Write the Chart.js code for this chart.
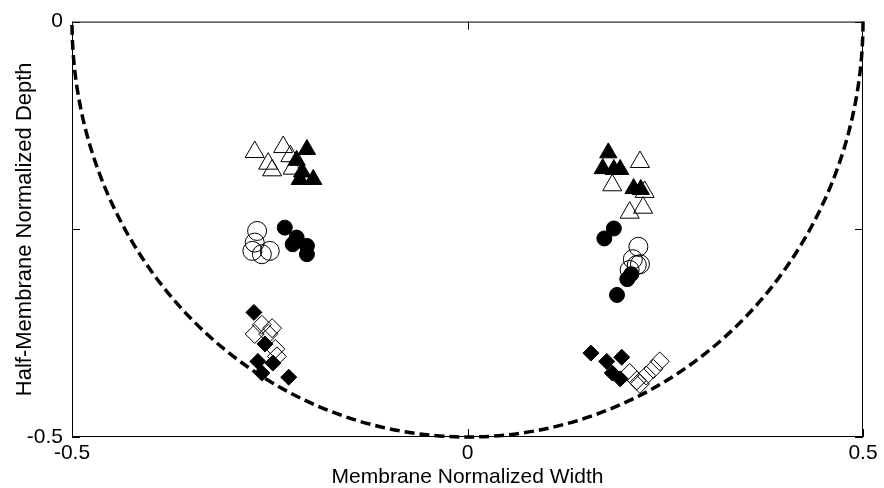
<!DOCTYPE html>
<html>
<head>
<meta charset="utf-8">
<script src="https://cdn.jsdelivr.net/npm/chart.js@4/dist/chart.umd.min.js"></script>
<style>
  html, body { margin: 0; padding: 0; background: #fff; }
  #wrap { width: 884px; height: 488px; }
</style>
</head>
<body>
<div id="wrap"><canvas id="depthChart"></canvas></div>
<script>
// Axis ticks
const xTicks = [-0.5, 0, 0.5];
const yTicks = [0, -0.25, -0.5];
const yLabelled = [0, -0.5];

// Membrane boundary (half circle, centre and radius in data units)
const boundaryCentre = [0, 0];
const boundaryRadius = 0.5;

// Left side, triangles
const leftTriOpenX = [-0.269, -0.233, -0.224, -0.252, -0.247, -0.221];
const leftTriOpenY = [-0.157, -0.151, -0.162, -0.171, -0.179, -0.177];
const leftTriFillX = [-0.203, -0.216, -0.209, -0.212, -0.195];
const leftTriFillY = [-0.154, -0.167, -0.181, -0.190, -0.190];

// Left side, circles
const leftCircOpenX = [-0.266, -0.269, -0.272, -0.250, -0.260];
const leftCircOpenY = [-0.252, -0.266, -0.276, -0.276, -0.280];
const leftCircFillX = [-0.231, -0.216, -0.203, -0.203, -0.221];
const leftCircFillY = [-0.248, -0.260, -0.270, -0.280, -0.268];

// Left side, diamonds
const leftDiaOpenX = [-0.260, -0.247, -0.269, -0.252, -0.243, -0.241];
const leftDiaOpenY = [-0.365, -0.369, -0.376, -0.376, -0.394, -0.403];
const leftDiaFillX = [-0.270, -0.256, -0.265, -0.260, -0.246, -0.226];
const leftDiaFillY = [-0.350, -0.388, -0.409, -0.423, -0.411, -0.428];

// Right side, triangles
const rightTriOpenX = [0.218, 0.183, 0.224, 0.222, 0.205];
const rightTriOpenY = [-0.169, -0.197, -0.205, -0.224, -0.230];
const rightTriFillX = [0.178, 0.171, 0.185, 0.193, 0.210, 0.219];
const rightTriFillY = [-0.158, -0.177, -0.178, -0.178, -0.201, -0.202];

// Right side, circles
const rightCircOpenX = [0.216, 0.209, 0.214, 0.218, 0.205];
const rightCircOpenY = [-0.271, -0.286, -0.293, -0.292, -0.299];
const rightCircFillX = [0.185, 0.173, 0.207, 0.202, 0.189];
const rightCircFillY = [-0.249, -0.261, -0.304, -0.310, -0.329];

// Right side, diamonds
const rightDiaOpenX = [0.205, 0.214, 0.226, 0.235, 0.243, 0.218];
const rightDiaOpenY = [-0.423, -0.432, -0.426, -0.418, -0.409, -0.436];
const rightDiaFillX = [0.156, 0.176, 0.195, 0.183, 0.193];
const rightDiaFillY = [-0.399, -0.409, -0.404, -0.423, -0.430];

function pts(xs, ys) {
    return xs.map((x, i) => ({ x: x, y: ys[i] }));
}

function markers(xs, ys, style, filled, radius) {
    return {
        data: pts(xs, ys),
        pointStyle: style,
        pointRadius: radius,
        pointHoverRadius: radius,
        pointBorderWidth: 1,
        borderColor: '#000',
        backgroundColor: filled ? '#000' : 'rgba(0,0,0,0)'
    };
}

// Dashed half circle + box frame + inward tick marks
const framePlugin = {
    id: 'frame',
    beforeDatasetsDraw(chart) {
        const { ctx, scales: { x, y } } = chart;
        const cx = x.getPixelForValue(boundaryCentre[0]);
        const cy = y.getPixelForValue(boundaryCentre[1]);
        const rx = x.getPixelForValue(boundaryCentre[0] + boundaryRadius) - cx;
        const ry = y.getPixelForValue(boundaryCentre[1] - boundaryRadius) - cy;
        ctx.save();
        ctx.strokeStyle = '#000';
        ctx.lineWidth = 3.5;
        ctx.setLineDash([10, 5]);
        ctx.beginPath();
        ctx.ellipse(cx, cy, rx, ry, 0, 0, Math.PI);
        ctx.stroke();
        ctx.restore();
    },
    afterDraw(chart) {
        const { ctx, chartArea: a, scales: { x, y } } = chart;
        ctx.save();
        ctx.strokeStyle = '#000';
        ctx.lineWidth = 1;
        ctx.setLineDash([]);
        ctx.strokeRect(a.left + 0.5, a.top + 0.5, a.right - a.left - 1, a.bottom - a.top - 1);
        const len = 8;
        ctx.beginPath();
        xTicks.forEach(v => {
            const px = Math.round(x.getPixelForValue(v)) + 0.5;
            ctx.moveTo(px, a.bottom); ctx.lineTo(px, a.bottom - len);
            ctx.moveTo(px, a.top); ctx.lineTo(px, a.top + len);
        });
        yTicks.forEach(v => {
            const py = Math.round(y.getPixelForValue(v)) + 0.5;
            ctx.moveTo(a.left, py); ctx.lineTo(a.left + len, py);
            ctx.moveTo(a.right, py); ctx.lineTo(a.right - len, py);
        });
        ctx.stroke();
        ctx.restore();
    }
};

const tickFont = { family: 'Liberation Sans, Arial, sans-serif', size: 21 };
const titleFont = { family: 'Liberation Sans, Arial, sans-serif', size: 21, lineHeight: 1 };

new Chart(document.getElementById('depthChart'), {
    type: 'scatter',
    data: {
        datasets: [
            markers(leftTriFillX, leftTriFillY, 'triangle', true, 10),
            markers(rightTriFillX, rightTriFillY, 'triangle', true, 10),
            markers(leftCircFillX, leftCircFillY, 'circle', true, 7.5),
            markers(rightCircFillX, rightCircFillY, 'circle', true, 7.5),
            markers(leftDiaFillX, leftDiaFillY, 'rectRot', true, 8),
            markers(rightDiaFillX, rightDiaFillY, 'rectRot', true, 8),
            markers(leftTriOpenX, leftTriOpenY, 'triangle', false, 11),
            markers(rightTriOpenX, rightTriOpenY, 'triangle', false, 11),
            markers(leftCircOpenX, leftCircOpenY, 'circle', false, 9.5),
            markers(rightCircOpenX, rightCircOpenY, 'circle', false, 9.5),
            markers(leftDiaOpenX, leftDiaOpenY, 'rectRot', false, 9.5),
            markers(rightDiaOpenX, rightDiaOpenY, 'rectRot', false, 9.5)
        ]
    },
    options: {
        responsive: true,
        maintainAspectRatio: false,
        animation: false,
        layout: { padding: { top: 16, right: 21, left: 0, bottom: 0 } },
        plugins: {
            legend: { display: false },
            tooltip: { enabled: false }
        },
        scales: {
            x: {
                type: 'linear',
                min: -0.5,
                max: 0.5,
                afterBuildTicks: s => { s.ticks = xTicks.map(v => ({ value: v })); },
                afterFit: s => { s.height = 51; },
                grid: { display: false, drawTicks: false },
                border: { display: false },
                ticks: {
                    color: '#000',
                    font: tickFont,
                    padding: 4,
                    maxRotation: 0,
                    callback: v => String(v)
                },
                title: {
                    display: true,
                    text: 'Membrane Normalized Width',
                    color: '#000',
                    font: titleFont,
                    padding: { top: -2, bottom: 0 }
                }
            },
            y: {
                type: 'linear',
                min: -0.5,
                max: 0,
                afterBuildTicks: s => { s.ticks = yTicks.map(v => ({ value: v })); },
                afterFit: s => { s.width = 72; },
                grid: { display: false, drawTicks: false },
                border: { display: false },
                ticks: {
                    color: '#000',
                    font: tickFont,
                    padding: 9,
                    callback: v => yLabelled.includes(v) ? String(v) : ''
                },
                title: {
                    display: true,
                    text: 'Half-Membrane Normalized Depth',
                    color: '#000',
                    font: { family: 'Liberation Sans, Arial, sans-serif', size: 22, lineHeight: 1 },
                    padding: { top: 14, bottom: 0 }
                }
            }
        }
    },
    plugins: [framePlugin]
});
</script>
</body>
</html>
